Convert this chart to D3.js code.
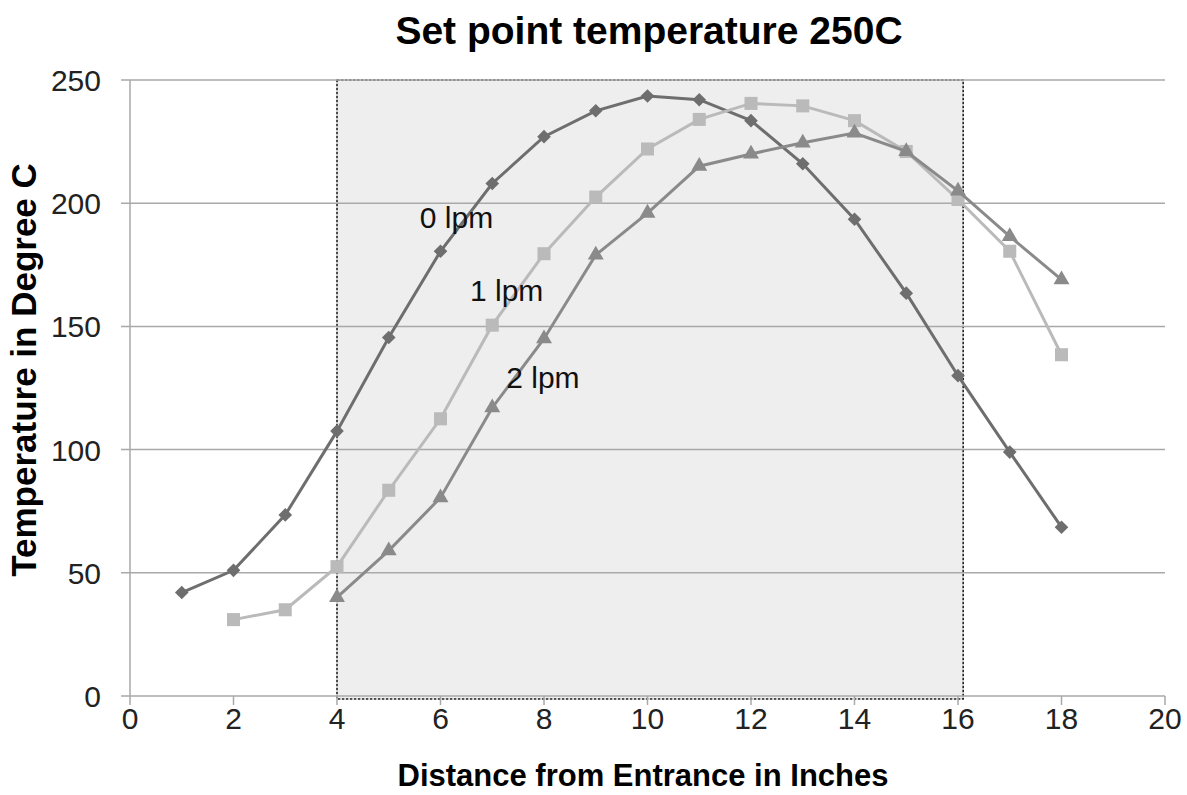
<!DOCTYPE html>
<html>
<head>
<meta charset="utf-8">
<script src="https://cdn.jsdelivr.net/npm/d3@7"></script>
<style>
  body { margin: 0; background: #fff; }
  text { font-family: "Liberation Sans", Arial, Helvetica, sans-serif; }
</style>
</head>
<body>
<script>
// readings
var xs0 = [1, 2, 3, 4, 5, 6, 7, 8, 9, 10, 11, 12, 13, 14, 15, 16, 17, 18];
var lpm0 = [42, 51, 73.5, 107.5, 145.5, 180.5, 208, 227, 237.5, 243.5, 242, 233.5, 216, 193.5, 163.5, 130, 99, 68.5];
var xs1 = [2, 3, 4, 5, 6, 7, 8, 9, 10, 11, 12, 13, 14, 15, 16, 17, 18];
var lpm1 = [31, 35, 52.5, 83.5, 112.5, 150.5, 179.5, 202.5, 222, 234, 240.5, 239.5, 233.5, 221, 201.5, 180.5, 138.5];
var xs2 = [4, 5, 6, 7, 8, 9, 10, 11, 12, 13, 14, 15, 16, 17, 18];
var lpm2 = [40, 59, 80.5, 117, 145, 179, 196, 215, 220, 224.5, 228.5, 221, 205, 186.5, 169];
var seriesNames = ["0 lpm", "1 lpm", "2 lpm"];
var labelX = [5.6, 6.57, 7.27];
var labelY = [190, 160.5, 125];
var zone = [4, 16.1];
var xTicks = [0, 2, 4, 6, 8, 10, 12, 14, 16, 18, 20];
var yTicks = [0, 50, 100, 150, 200, 250];

var width = 1187, height = 795;

var svg = d3.select("body")
    .append("svg")
    .attr("width", width)
    .attr("height", height);

var x = d3.scaleLinear().domain([0, 20]).range([130, 1165]);
var y = d3.scaleLinear().domain([0, 250]).range([696, 80]);

// shaded zone
svg.append("rect")
    .attr("x", x(zone[0]))
    .attr("y", y(250))
    .attr("width", x(zone[1]) - x(zone[0]))
    .attr("height", y(0) - y(250) + 3)
    .attr("fill", "#eeeeee")
    .attr("stroke", "#222")
    .attr("stroke-width", 1.6)
    .attr("stroke-dasharray", "2.5,1.5");

// gridlines
svg.append("g")
    .selectAll("line")
    .data(yTicks)
    .enter()
    .append("line")
    .attr("x1", x(0) - 9)
    .attr("x2", x(20))
    .attr("y1", function (d) { return y(d); })
    .attr("y2", function (d) { return y(d); })
    .attr("stroke", "#a9a9a9")
    .attr("stroke-width", 1.5);

// y axis line
svg.append("line")
    .attr("x1", x(0)).attr("x2", x(0))
    .attr("y1", y(250)).attr("y2", y(0) + 9)
    .attr("stroke", "#a9a9a9")
    .attr("stroke-width", 1.5);

// x ticks
svg.append("g")
    .selectAll("line")
    .data(xTicks.slice(1))
    .enter()
    .append("line")
    .attr("x1", function (d) { return x(d); })
    .attr("x2", function (d) { return x(d); })
    .attr("y1", y(0))
    .attr("y2", y(0) + 9)
    .attr("stroke", "#a9a9a9")
    .attr("stroke-width", 1.5);

// tick labels
svg.append("g")
    .selectAll("text")
    .data(xTicks)
    .enter()
    .append("text")
    .attr("x", function (d) { return x(d); })
    .attr("y", 729)
    .attr("text-anchor", "middle")
    .attr("font-size", 30)
    .attr("fill", "#222")
    .text(function (d) { return d; });

svg.append("g")
    .selectAll("text")
    .data(yTicks)
    .enter()
    .append("text")
    .attr("x", 101)
    .attr("y", function (d) { return y(d) + 11; })
    .attr("text-anchor", "end")
    .attr("font-size", 30)
    .attr("fill", "#222")
    .text(function (d) { return d; });

// series
var diamond = {
    draw: function (ctx, size) {
        var r = Math.sqrt(size) / 2 * 1.3;
        ctx.moveTo(0, -r); ctx.lineTo(r, 0); ctx.lineTo(0, r); ctx.lineTo(-r, 0); ctx.closePath();
    }
};

var series = [
    { xs: xs0, ys: lpm0, color: "#6e6e6e", shape: diamond, size: 110 },
    { xs: xs1, ys: lpm1, color: "#bababa", shape: d3.symbolSquare, size: 170 },
    { xs: xs2, ys: lpm2, color: "#8a8a8a", shape: d3.symbolTriangle, size: 110 }
];

var line = d3.line()
    .x(function (d) { return x(d[0]); })
    .y(function (d) { return y(d[1]); });

series.forEach(function (s) {
    var pts = d3.zip(s.xs, s.ys);
    svg.append("path")
        .datum(pts)
        .attr("d", line)
        .attr("fill", "none")
        .attr("stroke", s.color)
        .attr("stroke-width", 3);
    svg.append("g")
        .selectAll("path")
        .data(pts)
        .enter()
        .append("path")
        .attr("transform", function (d) { return "translate(" + x(d[0]) + "," + y(d[1]) + ")"; })
        .attr("d", d3.symbol().type(s.shape).size(s.size))
        .attr("fill", s.color);
});

// series labels
svg.append("g")
    .selectAll("text")
    .data(seriesNames)
    .enter()
    .append("text")
    .attr("x", function (d, i) { return x(labelX[i]); })
    .attr("y", function (d, i) { return y(labelY[i]); })
    .attr("font-size", 30)
    .attr("fill", "#111")
    .text(function (d) { return d; });

// title and axis titles
svg.append("text")
    .attr("x", 649)
    .attr("y", 44)
    .attr("text-anchor", "middle")
    .attr("font-size", 39)
    .attr("font-weight", "bold")
    .text("Set point temperature 250C");

svg.append("text")
    .attr("x", 643)
    .attr("y", 786)
    .attr("text-anchor", "middle")
    .attr("font-size", 31)
    .attr("font-weight", "bold")
    .text("Distance from Entrance in Inches");

svg.append("text")
    .attr("transform", "translate(36," + 370 + ") rotate(-90)")
    .attr("text-anchor", "middle")
    .attr("font-size", 35)
    .attr("font-weight", "bold")
    .text("Temperature in Degree C");
</script>
</body>
</html>
